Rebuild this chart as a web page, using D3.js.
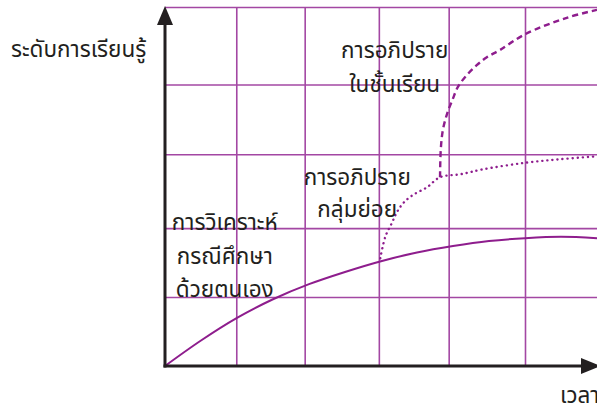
<!DOCTYPE html>
<html>
<head>
<meta charset="utf-8">
<script src="https://cdn.jsdelivr.net/npm/d3@7"></script>
<style>
  body { margin: 0; background: #fff; }
  svg text { font-family: "Noto Sans Thai", "Loma", "Garuda", "DejaVu Sans", sans-serif; fill: #231f20; }
</style>
</head>
<body>
<script>
// grid positions (in chart units)
var xGrid = [0.99, 1.94, 2.97, 3.94, 5];
var yGrid = [0.96, 1.92, 2.95, 3.92, 5];

// self study curve
var selfStudy = [
  [0, 0], [0.5, 0.355], [1.0, 0.67], [1.5, 0.93], [2.0, 1.14], [2.5, 1.31], [3.0, 1.46],
  [3.5, 1.58], [4.0, 1.67], [4.5, 1.74], [5.0, 1.78], [5.5, 1.80], [6.0, 1.78]
];
// small group discussion (dotted)
var groupTalk = [
  [2.99, 1.50], [3.06, 1.80], [3.15, 1.99], [3.22, 2.14], [3.31, 2.27], [3.44, 2.38],
  [3.64, 2.49], [3.82, 2.63], [4.10, 2.67], [4.42, 2.74], [5.0, 2.83], [5.49, 2.88], [6.0, 2.92]
];
// class discussion (dashed)
var classTalk = [
  [3.82, 2.63], [3.83, 3.01], [3.86, 3.29], [3.92, 3.52], [3.99, 3.70], [4.07, 3.89],
  [4.19, 4.05], [4.33, 4.19], [4.47, 4.30], [4.65, 4.40], [5.0, 4.62], [5.58, 4.85], [6.0, 4.96]
];

var labels = [
  { lines: ["การอภิปราย", "ในชั้นเรียน"], x: 3.19, y: 4.29, gap: 34 },
  { lines: ["การอภิปราย", "กลุ่มย่อย"], x: 2.67, y: 2.52, gap: 32 },
  { lines: ["การวิเคราะห์", "กรณีศึกษา", "ด้วยตนเอง"], x: 0.83, y: 1.89, gap: 33.5 }
];

var width = 597, height = 405;
var mLeft = 165, mRight = 597, mTop = 7, mBottom = 366;

var svg = d3.select("body").append("svg")
  .attr("width", width)
  .attr("height", height);

var x = d3.scaleLinear().domain([0, 6]).range([mLeft, mRight]);
var y = d3.scaleLinear().domain([0, 5]).range([mBottom, mTop]);

var purple = "#a347a3";
var lineColor = "#8e1d8d";
var ink = "#231f20";

//------------------------- grid -------------------------//
svg.append("g")
  .attr("transform", "translate(0," + mBottom + ")")
  .call(d3.axisBottom(x).tickValues(xGrid).tickSize(-(mBottom - mTop)).tickFormat(""))
  .call(function (g) {
    g.select(".domain").remove();
    g.selectAll("line").attr("stroke", purple).attr("stroke-width", 1.6);
  });

svg.append("g")
  .attr("transform", "translate(" + mLeft + ",0)")
  .call(d3.axisLeft(y).tickValues(yGrid).tickSize(-(mRight - mLeft + 10)).tickFormat(""))
  .call(function (g) {
    g.select(".domain").remove();
    g.selectAll("line").attr("stroke", purple).attr("stroke-width", 1.6);
  });

//------------------------- curves -------------------------//
var line = d3.line()
  .x(function (d) { return x(d[0]); })
  .y(function (d) { return y(d[1]); })
  .curve(d3.curveCatmullRom.alpha(0.5));

svg.append("path")
  .datum(selfStudy)
  .attr("d", line)
  .attr("fill", "none")
  .attr("stroke", lineColor)
  .attr("stroke-width", 2);

svg.append("path")
  .datum(groupTalk)
  .attr("d", line)
  .attr("fill", "none")
  .attr("stroke", lineColor)
  .attr("stroke-width", 2.4)
  .attr("stroke-linecap", "round")
  .attr("stroke-dasharray", "0.1 5");

svg.append("path")
  .datum(classTalk)
  .attr("d", line)
  .attr("fill", "none")
  .attr("stroke", lineColor)
  .attr("stroke-width", 2.4)
  .attr("stroke-dasharray", "6 4");

//------------------------- axes with arrows -------------------------//
svg.append("line")
  .attr("x1", mLeft).attr("y1", mBottom + 1.5)
  .attr("x2", mLeft).attr("y2", mTop + 14)
  .attr("stroke", ink).attr("stroke-width", 3);
svg.append("path")
  .attr("d", "M" + mLeft + "," + (mTop - 1) + "L" + (mLeft - 8) + "," + (mTop + 18) + "L" + (mLeft + 8) + "," + (mTop + 18) + "Z")
  .attr("fill", ink);

svg.append("line")
  .attr("x1", mLeft - 1.5).attr("y1", mBottom)
  .attr("x2", mRight - 10).attr("y2", mBottom)
  .attr("stroke", ink).attr("stroke-width", 3);
svg.append("path")
  .attr("d", "M" + (mRight + 4) + "," + mBottom + "L" + (mRight - 16) + "," + (mBottom - 8) + "L" + (mRight - 16) + "," + (mBottom + 8) + "Z")
  .attr("fill", ink);

//------------------------- texts -------------------------//
svg.append("text")
  .attr("x", 11).attr("y", 57)
  .attr("font-size", 22.5)
  .text("ระดับการเรียนรู้");

svg.append("text")
  .attr("x", 560).attr("y", 403)
  .attr("font-size", 22.5)
  .text("เวลา");

labels.forEach(function (d) {
  var t = svg.append("text")
    .attr("text-anchor", "middle")
    .attr("font-size", 22.5);
  d.lines.forEach(function (s, i) {
    t.append("tspan")
      .attr("x", x(d.x))
      .attr("y", y(d.y) + i * d.gap)
      .text(s);
  });
});
</script>
</body>
</html>
